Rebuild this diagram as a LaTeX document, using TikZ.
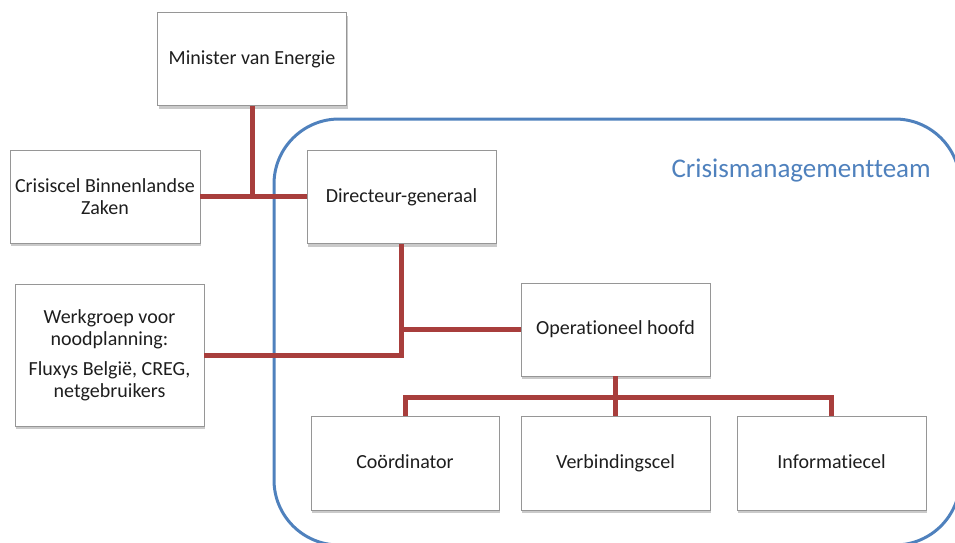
\documentclass[tikz,border=0pt]{standalone}
\usepackage{fontspec}
\setmainfont{Carlito}[Ligatures=NoCommon]
\usetikzlibrary{shadows}
\definecolor{conn}{RGB}{168,62,60}
\definecolor{team}{RGB}{79,129,189}
\definecolor{boxline}{RGB}{150,150,150}
\definecolor{txt}{RGB}{30,30,30}
\tikzset{
  orgbox/.style={draw=boxline, line width=0.8pt, fill=white, rectangle,
    minimum width=189pt, minimum height=93pt, align=center, text=txt,
    font=\fontsize{20}{22}\selectfont, inner sep=0pt,
    drop shadow={shadow xshift=1pt, shadow yshift=-3pt, opacity=0.35, fill=black!60}},
  oneline/.style={text height=13pt, text depth=3pt},
  link/.style={draw=conn, line width=5pt},
}
\begin{document}
\begin{tikzpicture}[x=1pt,y=-1pt]
\useasboundingbox (0,0) rectangle (955,542);
\begin{scope}
\clip (0,0) rectangle (955,542);
\draw[team, line width=3pt, rounded corners=65pt] (274,119) rectangle (960,545);
\end{scope}
\node[anchor=base west, text=team, font=\fontsize{27}{30}\selectfont] (teamlabel) at (668,177) {Crisismanagementteam};

\node[orgbox, oneline] (min) at (252,59) {Minister van Energie};
\node[orgbox, minimum width=190pt] (cris) at (105,196.5) {Crisiscel Binnenlandse\\Zaken};
\node[orgbox, oneline] (dir) at (401.5,197) {Directeur-generaal};
\node[orgbox, minimum height=142pt] (werk) at (109.5,355) {Werkgroep voor\\noodplanning:\\[8pt]Fluxys België, CREG,\\netgebruikers};
\node[orgbox, oneline] (op) at (615.5,329.5) {Operationeel hoofd};
\node[orgbox, oneline, minimum width=188pt, minimum height=94pt] (coord) at (405,463) {Coördinator};
\node[orgbox, oneline, minimum height=94pt] (verb) at (615.5,463) {Verbindingscel};
\node[orgbox, oneline, minimum height=94pt] (info) at (831.5,463) {Informatiecel};

\coordinate (junc) at (252,196);
\coordinate (bus) at (0,397);
\coordinate (wk) at (0,355);

\draw[link] (min.south) -- (junc);
\draw[link] (cris.east |- junc) -- (dir.west |- junc);
\draw[link] (dir.south) -- (dir.south |- wk) -- (werk.east |- wk);
\draw[link] (dir.south |- op.west) -- (op.west);
\draw[link] (op.south) -- (verb.north);
\draw[link] (coord.north) -- (coord.north |- bus) -- (info.north |- bus) -- (info.north);
\end{tikzpicture}
\end{document}
